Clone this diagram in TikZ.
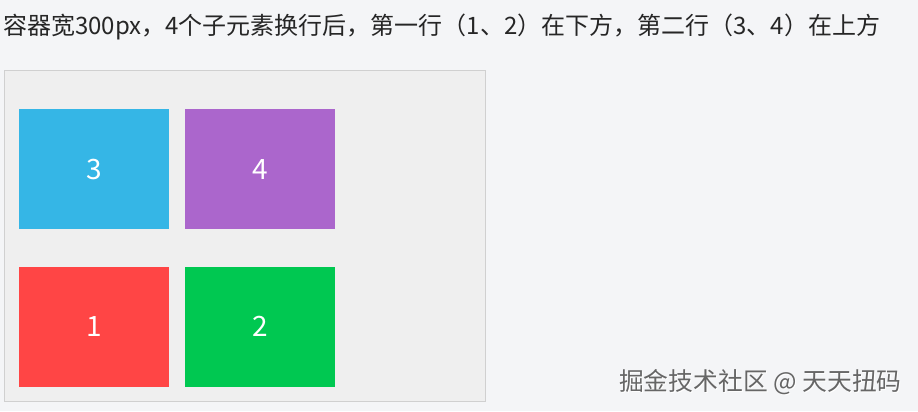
\documentclass[tikz,border=0pt]{standalone}
\usepackage{fontspec}
\setmainfont{Noto Sans CJK SC}
\usetikzlibrary{positioning}
\definecolor{pagebg}{HTML}{F4F5F7}
\definecolor{boxbg}{HTML}{EFEFEF}
\definecolor{boxline}{HTML}{D0D0D0}
\definecolor{itemblue}{HTML}{35B6E6}
\definecolor{itempurple}{HTML}{AB66CC}
\definecolor{itemred}{HTML}{FF4545}
\definecolor{itemgreen}{HTML}{00C851}
\definecolor{wmgray}{HTML}{666666}
\tikzset{
caption/.style={
    inner sep=0pt,
    text=black!85,
    font=\fontsize{18}{18}\selectfont
},
flexbox/.style={
    rectangle,
    draw=boxline,
    fill=boxbg,
    line width=0.75pt,
    inner sep=0pt,
    minimum width=360.4pt,
    minimum height=248.25pt
},
item/.style={
    rectangle,
    inner sep=0pt,
    minimum width=112.5pt,
    minimum height=90pt,
    text=white,
    font=\fontsize{21}{21}\selectfont
},
wmtext/.style={
    inner sep=0pt,
    text=wmgray,
    font=\fontsize{18.6}{18.6}\selectfont
},
wmshade/.style={
    wmtext,
    text=white
}}

\begin{document}
\begin{tikzpicture}[x=0.75pt, y=-0.75pt, node distance=11.25pt]
\useasboundingbox[fill=pagebg] (0,0) rectangle (918,411);
\node[caption, anchor=west]  (title)  at (3,27)  {容器宽300px，4个子元素换行后，第一行（1、2）在下方，第二行（3、4）在上方};

\node[flexbox, anchor=north west]   (wrap)  at (4,70)  {};
\node[item, fill=itemblue, anchor=north west]  (n3)  at (19,109)  {3};
\node[item, fill=itempurple]   (n4)  [right=of n3]  {4};
\node[item, fill=itemred]      (n1)  [below=27.75pt of n3]  {1};
\node[item, fill=itemgreen]    (n2)  [right=of n1]  {2};

\node[wmshade, anchor=east]  (wms)  at (903,383)  {掘金技术社区 @ 天天扭码};
\node[wmtext, anchor=east]   (wm)   at (902,382)  {掘金技术社区 @ 天天扭码};
\end{tikzpicture}
\end{document}
